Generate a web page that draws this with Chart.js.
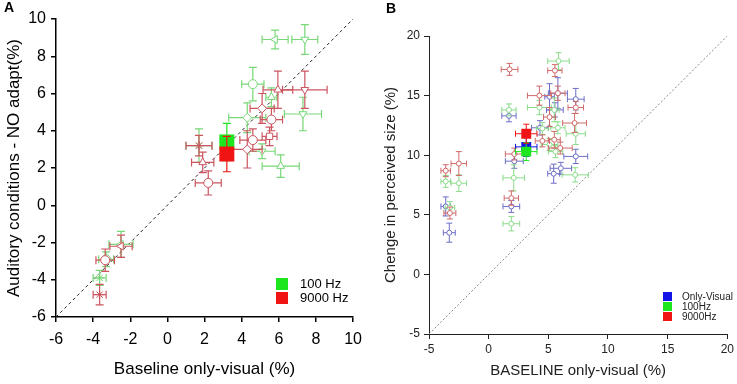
<!DOCTYPE html>
<html>
<head>
<meta charset="utf-8">
<script src="https://cdn.jsdelivr.net/npm/chart.js@4.4.0/dist/chart.umd.min.js"></script>
<style>
body{margin:0;background:#fff;width:737px;height:384px;position:relative;overflow:hidden;font-family:"Liberation Sans",Arial,sans-serif}
#wrapA{position:absolute;left:0;top:0;width:370px;height:384px}
#wrapB{position:absolute;left:370px;top:0;width:367px;height:384px}
.tag{position:absolute;font-weight:bold;font-size:14px;color:#000}
</style>
</head>
<body>
<div id="wrapA"><canvas id="chartA" width="370" height="384"></canvas></div>
<div id="wrapB"><canvas id="chartB" width="367" height="384"></canvas></div>
<div class="tag" style="left:4px;top:-1px">A</div>
<div class="tag" style="left:386px;top:0px">B</div>
<script>
// ---- panel A : auditory conditions vs baseline ----
var a100X    = [5.8, 7.4, 4.6, 5.6, 4.3, 7.3, 5.1, 6.1, 1.7, -2.5, -3.3, -3.65];
var a100Y    = [8.9, 8.9, 6.5, 5.8, 4.7, 4.9, 2.9, 2.1, 3.2, -2.1, -2.9, -3.9];
var a100XErr = [0.7, 0.7, 0.6, 0.3, 1.0, 1.0, 0.7, 1.0, 0.7, 0.65, 0.4, 0.35];
var a100YErr = [0.5, 0.8, 0.9, 0.5, 0.8, 0.9, 0.4, 0.6, 0.9, 0.7, 0.4, 0.4];
var a100Shape = ['triLeft','triDown','circle','triangle','diamond','triDown','triDown','triangle','star','triLeft','circle','star'];

var a9000X    = [5.95, 7.4, 5.1, 5.6, 5.5, 4.6, 4.3, 1.7, 1.9, 2.2, -2.5, -3.35, -3.65];
var a9000Y    = [6.2, 6.2, 5.2, 4.6, 3.7, 3.5, 3.0, 3.2, 2.3, 1.2, -2.2, -2.95, -4.8];
var a9000XErr = [0.8, 1.2, 0.65, 0.6, 0.4, 0.7, 0.8, 0.7, 0.6, 0.7, 0.6, 0.5, 0.35];
var a9000YErr = [1.0, 1.0, 0.8, 0.6, 0.5, 0.6, 1.0, 0.55, 0.55, 0.65, 0.6, 0.6, 0.55];
var a9000Shape = ['triangle','triDown','diamond','circle','rect','circle','diamond','star','triangle','circle','triLeft','circle','star'];

var aMeanX = [3.2, 3.2];      // 100 Hz, 9000 Hz
var aMeanY = [3.4, 2.75];
var aMeanYErr = [1.0, 0.95];
var aLegend = ['100 Hz', '9000 Hz'];
var aTicks = [-6, -4, -2, 0, 2, 4, 6, 8, 10];

// ---- panel B : change in perceived size vs baseline ----
var bVisX    = [7.3, 5.55, 5.1, 5.8, 4.3, 7.3, 6.05, 5.45, 2.15, 1.7, -3.6, -3.3, 1.9];
var bVisY    = [14.7, 13.8, 14.9, 15.2, 12.3, 9.9, 8.9, 8.45, 9.5, 13.3, 5.7, 3.5, 5.7];
var bVisXErr = [0.7, 0.7, 0.4, 0.8, 0.7, 1.0, 0.9, 0.5, 0.75, 0.6, 0.4, 0.5, 0.7];
var bVisYErr = [0.9, 0.6, 1.1, 1.3, 0.6, 0.6, 0.5, 0.8, 0.6, 0.5, 0.8, 0.8, 0.5];

var b100X    = [5.85, 1.7, 4.25, 5.5, 4.5, 5.8, 7.3, 5.1, 5.6, 2.1, 7.25, -3.6, -2.5, -3.25, 1.9];
var b100Y    = [17.9, 13.8, 14.0, 13.8, 12.25, 12.3, 11.8, 10.9, 10.3, 8.1, 8.35, 7.8, 7.65, 5.6, 4.25];
var b100XErr = [0.9, 0.6, 1.0, 0.4, 0.5, 0.6, 0.8, 0.7, 0.6, 0.9, 1.1, 0.4, 0.65, 0.4, 0.7];
var b100YErr = [0.7, 0.5, 0.6, 1.0, 0.5, 0.5, 0.9, 0.5, 0.5, 1.1, 0.6, 0.5, 0.7, 0.5, 0.6];

var b9000X    = [1.75, 5.55, 4.25, 5.8, 7.3, 5.1, 7.2, 4.5, 5.5, 6.0, 2.15, -3.6, -2.5, -3.25, 1.9];
var b9000Y    = [17.2, 17.1, 15.0, 15.2, 14.0, 13.2, 12.7, 11.2, 11.3, 10.6, 10.1, 8.7, 9.3, 5.15, 6.4];
var b9000XErr = [0.7, 0.6, 1.0, 0.6, 0.65, 0.5, 1.0, 0.6, 0.5, 1.0, 0.75, 0.4, 0.65, 0.5, 0.6];
var b9000YErr = [0.5, 0.5, 0.8, 0.6, 0.5, 0.8, 0.8, 0.5, 0.7, 0.5, 0.5, 0.5, 1.0, 0.5, 0.6];

var bMeanX = [3.15, 3.15, 3.15];   // only-visual, 100Hz, 9000Hz
var bMeanY = [10.7, 10.3, 11.8];
var bMeanXErr = [0.9, 0.9, 0.9];
var bMeanYErr = [0.8, 0.75, 0.8];
var bLegend = ['Only-Visual', '100Hz', '9000Hz'];
var bTicks = [-5, 0, 5, 10, 15, 20];

var GREEN_ERR = '#78d878', RED_ERR = '#cc5560', BLUE_ERR = '#6464c4';
var GREEN_ERR_B = '#8cdc8c', RED_ERR_B = '#d06a6a', BLUE_ERR_B = '#6e6ec8';
var GREEN = '#1ee61e', RED = '#f01414', BLUE = '#1414e6';

function toPoints(xs, ys){
    return xs.map((x, i) => ({x: x, y: ys[i]}));
}

function shapeStyle(s){
    if(s == 'triDown') return ['triangle', 180];
    if(s == 'triLeft') return ['triangle', 270];
    if(s == 'diamond') return ['rectRot', 0];
    if(s == 'rect') return ['rect', 0];
    if(s == 'star') return ['star', 0];
    if(s == 'triangle') return ['triangle', 0];
    return ['circle', 0];
}

function pointSet(xs, ys, ex, ey, errColor, shapes, radius, cap, lw){
    var styles = shapes ? shapes.map(shapeStyle) : null;
    return {
        data: toPoints(xs, ys),
        errX: ex, errY: ey, errColor: errColor, capSize: cap, errWidth: lw,
        showLine: false,
        borderColor: errColor,
        backgroundColor: '#fff',
        borderWidth: 1,
        pointRadius: radius,
        pointStyle: styles ? styles.map(s => s[0]) : 'circle',
        rotation: styles ? styles.map(s => s[1]) : 0
    };
}

function meanSet(x, y, ex, ey, color, radius, cap, lw){
    return {
        data: [{x: x, y: y}],
        errX: [ex], errY: [ey], errColor: color, capSize: cap, errWidth: lw,
        showLine: false,
        pointStyle: 'rect',
        pointRadius: radius,
        backgroundColor: color,
        borderColor: color,
        borderWidth: 0
    };
}

function diagSet(lo, hi, color, dash){
    return {
        data: [{x: lo, y: lo}, {x: hi, y: hi}],
        showLine: true,
        borderColor: color,
        borderWidth: 1,
        borderDash: dash,
        pointRadius: 0
    };
}

// later datasets are painted on top
function stacked(list){
    list.forEach((d, i) => { d.order = list.length - i; });
    return list;
}

// error bars drawn just under each dataset's markers
var errorBars = {
    id: 'errorBars',
    beforeDatasetDraw(chart, args){
        var ds = chart.data.datasets[args.index];
        if(!ds.errX) return;
        var xs = chart.scales.x, ys = chart.scales.y, ctx = chart.ctx;
        var cap = ds.capSize;
        ctx.save();
        ctx.strokeStyle = ds.errColor;
        ctx.lineWidth = ds.errWidth;
        ds.data.forEach((p, i) => {
            var cx = xs.getPixelForValue(p.x), cy = ys.getPixelForValue(p.y);
            ctx.beginPath();
            if(ds.errX[i]){
                var x0 = xs.getPixelForValue(p.x - ds.errX[i]), x1 = xs.getPixelForValue(p.x + ds.errX[i]);
                ctx.moveTo(x0, cy); ctx.lineTo(x1, cy);
                ctx.moveTo(x0, cy - cap); ctx.lineTo(x0, cy + cap);
                ctx.moveTo(x1, cy - cap); ctx.lineTo(x1, cy + cap);
            }
            if(ds.errY[i]){
                var y0 = ys.getPixelForValue(p.y - ds.errY[i]), y1 = ys.getPixelForValue(p.y + ds.errY[i]);
                ctx.moveTo(cx, y0); ctx.lineTo(cx, y1);
                ctx.moveTo(cx - cap, y0); ctx.lineTo(cx + cap, y0);
                ctx.moveTo(cx - cap, y1); ctx.lineTo(cx + cap, y1);
            }
            ctx.stroke();
        });
        ctx.restore();
    }
};

// square legend inside the plot, bottom right
var boxLegend = {
    id: 'boxLegend',
    afterDraw(chart, args, opts){
        var ctx = chart.ctx;
        ctx.save();
        ctx.font = opts.font;
        ctx.textBaseline = 'middle';
        opts.labels.forEach((lab, i) => {
            var y = opts.y + i * opts.step;
            ctx.fillStyle = opts.colors[i];
            ctx.fillRect(opts.x, y, opts.box, opts.box);
            ctx.fillStyle = opts.textColor;
            ctx.fillText(lab, opts.x + opts.box + opts.gap, y + opts.box / 2 + 0.5);
        });
        ctx.restore();
    }
};

function axis(min, max, ticks, title, tickFont, titleFont, color, border, fitSize, horiz, pad){
    return {
        type: 'linear', min: min, max: max,
        border: {color: color, width: border},
        grid: {drawOnChartArea: false, drawTicks: true, tickLength: 5, color: color, lineWidth: border},
        afterBuildTicks: function(scale){ scale.ticks = ticks.map(v => ({value: v})); },
        ticks: {color: color, font: {family: 'Liberation Sans', size: tickFont}, padding: pad},
        title: {display: true, text: title, color: color, font: {family: 'Liberation Sans', size: titleFont}, padding: 4},
        afterFit: function(scale){ if(horiz){ scale.height = fitSize; } else { scale.width = fitSize; } }
    };
}

Chart.defaults.animation = false;

new Chart(document.getElementById('chartA'), {
    type: 'scatter',
    data: {
        datasets: stacked([
            diagSet(-6, 10, '#222', [3, 3]),
            pointSet(a100X, a100Y, a100XErr, a100YErr, GREEN_ERR, a100Shape, 4.5, 4, 1.2),
            pointSet(a9000X, a9000Y, a9000XErr, a9000YErr, RED_ERR, a9000Shape, 4.5, 4, 1.2),
            meanSet(aMeanX[0], aMeanY[0], 0, aMeanYErr[0], GREEN, 10.6, 4, 1.2),
            meanSet(aMeanX[1], aMeanY[1], 0, aMeanYErr[1], RED, 10.6, 4, 1.2)
        ])
    },
    options: {
        responsive: false,
        layout: {padding: {left: 0, top: 19, right: 15, bottom: 0}},
        plugins: {
            legend: {display: false},
            tooltip: {enabled: false},
            boxLegend: {labels: aLegend, colors: [GREEN, RED], x: 276, y: 278, step: 14, box: 12, gap: 12,
                        font: '13px "Liberation Sans"', textColor: '#000'}
        },
        scales: {
            x: axis(-6, 10, aTicks, 'Baseline only-visual (%)', 16, 17, '#000', 1.5, 67, true, 8),
            y: axis(-6, 10, aTicks, 'Auditory conditions - NO adapt(%)', 16, 17, '#000', 1.5, 56, false, 5)
        }
    },
    plugins: [errorBars, boxLegend]
});

new Chart(document.getElementById('chartB'), {
    type: 'scatter',
    data: {
        datasets: stacked([
            diagSet(-5, 20, '#888', [2, 2]),
            pointSet(bVisX, bVisY, bVisXErr, bVisYErr, BLUE_ERR_B, null, 2.5, 3, 1),
            pointSet(b100X, b100Y, b100XErr, b100YErr, GREEN_ERR_B, null, 2.5, 3, 1),
            pointSet(b9000X, b9000Y, b9000XErr, b9000YErr, RED_ERR_B, null, 2.5, 3, 1),
            meanSet(bMeanX[0], bMeanY[0], bMeanXErr[0], bMeanYErr[0], BLUE, 7, 3, 1),
            meanSet(bMeanX[1], bMeanY[1], bMeanXErr[1], bMeanYErr[1], GREEN, 7, 3, 1),
            meanSet(bMeanX[2], bMeanY[2], bMeanXErr[2], bMeanYErr[2], RED, 7, 3, 1)
        ])
    },
    options: {
        responsive: false,
        layout: {padding: {left: 8, top: 36, right: 9, bottom: 0}},
        plugins: {
            legend: {display: false},
            tooltip: {enabled: false},
            boxLegend: {labels: bLegend, colors: [BLUE, GREEN, RED], x: 293, y: 292, step: 10, box: 9, gap: 10,
                        font: '10px "Liberation Sans"', textColor: '#222'}
        },
        scales: {
            x: axis(-5, 20, bTicks, 'BASELINE only-visual (%)', 12, 15, '#222', 1, 50, true, 3),
            y: axis(-5, 20, bTicks, 'Chenge in perceived size (%)', 12, 15, '#222', 1, 51, false, 4)
        }
    },
    plugins: [errorBars, boxLegend]
});
</script>
</body>
</html>
